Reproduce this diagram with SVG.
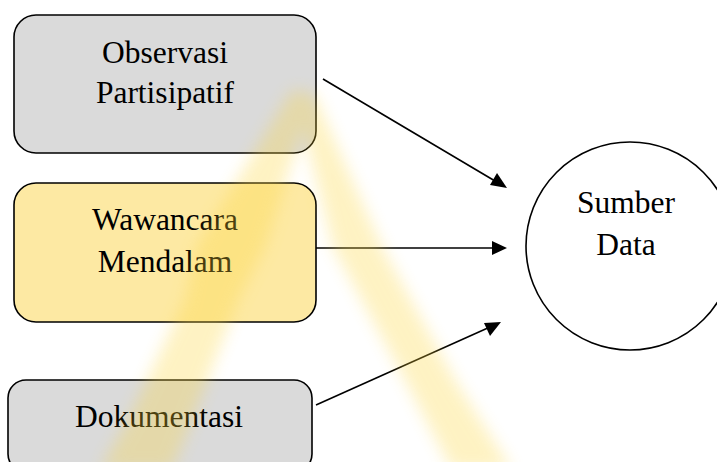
<svg xmlns="http://www.w3.org/2000/svg" width="717" height="462" viewBox="0 0 717 462">
<style>
.box{stroke:#000;stroke-width:1.6}
.grey{fill:#dadada}
.yellow{fill:#fde9a3}
.t{font-family:"Liberation Serif","Times New Roman",serif;font-size:31.5px;fill:#000;text-anchor:middle}
.ln{stroke:#000;stroke-width:1.6}
.ah{fill:#000}
</style>
<defs>
<filter id="blur" x="-30%" y="-20%" width="160%" height="140%"><feGaussianBlur stdDeviation="8"/></filter>
</defs>
<rect width="717" height="462" fill="#fff"/>
<g id="connectors">
<line class="ln" x1="323" y1="79" x2="495" y2="181"/>
<path class="ah" d="M507,188 L490,185 L497,173 Z"/>
<line class="ln" x1="316" y1="248" x2="492" y2="248"/>
<path class="ah" d="M507,248 L492,241 L492,255 Z"/>
<line class="ln" x1="316" y1="405" x2="490" y2="327"/>
<path class="ah" d="M501,322 L490,336 L484,323 Z"/>
</g>
<g id="node-observasi">
<rect class="box grey" x="14" y="15" width="302" height="138" rx="22"/>
<text class="t" x="165" y="63">Observasi</text>
<text class="t" x="165" y="103">Partisipatif</text>
</g>
<g id="node-wawancara">
<rect class="box yellow" x="14" y="183" width="302" height="139" rx="22"/>
<text class="t" x="165" y="230">Wawancara</text>
<text class="t" x="165" y="272">Mendalam</text>
</g>
<g id="node-dokumentasi">
<rect class="box grey" x="8" y="380" width="304" height="92" rx="18"/>
<text class="t" x="159" y="427">Dokumentasi</text>
</g>
<g id="node-sumber">
<circle cx="630" cy="246" r="104" fill="#fff" stroke="#000" stroke-width="1.6"/>
<text class="t" x="626" y="213">Sumber</text>
<text class="t" x="626" y="255">Data</text>
</g>
<g id="watermark" filter="url(#blur)" opacity="0.3">
<polygon fill="#fcd63a" points="292,90 312,98 265,247 238,300 192,420 172,470 100,470 128,420 185,300 196,247"/>
<polygon fill="#fcd63a" points="294,90 314,94 382,247 455,380 512,470 452,470 405,380 333,247"/>
</g>
</svg>
